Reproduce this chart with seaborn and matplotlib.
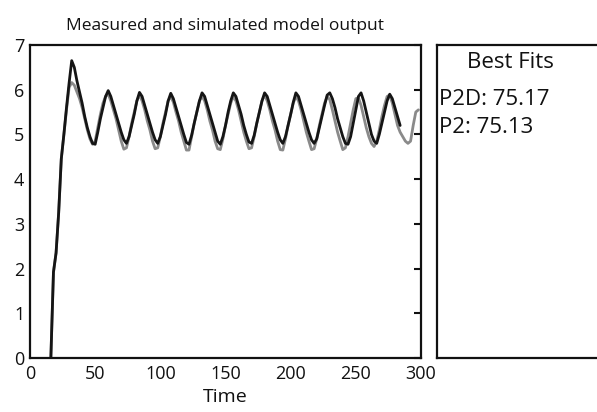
import numpy as np
import pandas as pd
import matplotlib
matplotlib.use("Agg")
import matplotlib.pyplot as plt
import seaborn as sns

# sampled every 2 time units, starting at t = 16
simulated = [
    0.0, 1.92, 2.35, 3.25, 4.45, 5.0, 5.6, 6.15, 6.65, 6.5,
    6.2, 5.95, 5.7, 5.4, 5.15, 4.95, 4.8, 4.78, 5.05, 5.35,
    5.6, 5.85, 5.98, 5.85, 5.65, 5.45, 5.25, 5.05, 4.88, 4.8,
    4.95, 5.2, 5.45, 5.75, 5.94, 5.85, 5.65, 5.45, 5.25, 5.05,
    4.88, 4.8, 4.95, 5.2, 5.45, 5.75, 5.92, 5.8, 5.6, 5.4,
    5.2, 5.0, 4.82, 4.78, 4.98, 5.25, 5.5, 5.75, 5.93, 5.85,
    5.65, 5.45, 5.25, 5.05, 4.85, 4.78, 4.95, 5.2, 5.5, 5.75,
    5.93, 5.85, 5.65, 5.45, 5.2, 5.0, 4.83, 4.8, 4.98, 5.25,
    5.5, 5.75, 5.93, 5.85, 5.65, 5.45, 5.25, 5.05, 4.88, 4.8,
    4.95, 5.2, 5.45, 5.72, 5.93, 5.85, 5.65, 5.45, 5.25, 5.05,
    4.88, 4.8, 4.9, 5.15, 5.4, 5.65, 5.88, 5.93, 5.8, 5.6,
    5.35, 5.15, 4.95, 4.8, 4.78, 4.95, 5.25, 5.55, 5.85, 5.93,
    5.75, 5.5, 5.25, 5.0, 4.85, 4.8, 5.0, 5.25, 5.5, 5.75,
    5.9, 5.8, 5.6, 5.4, 5.2,
]

measured = [
    0.0, 1.92, 2.35, 3.25, 4.45, 5.0, 5.55, 6.05, 6.16, 6.1,
    5.95, 5.8, 5.6, 5.35, 5.1, 4.9, 4.78, 4.85, 5.15, 5.45,
    5.7, 5.85, 5.9, 5.75, 5.55, 5.35, 5.1, 4.85, 4.67, 4.7,
    4.95, 5.25, 5.5, 5.75, 5.88, 5.75, 5.55, 5.3, 5.1, 4.85,
    4.68, 4.7, 4.95, 5.25, 5.5, 5.75, 5.85, 5.72, 5.5, 5.3,
    5.05, 4.85, 4.65, 4.65, 4.95, 5.25, 5.5, 5.75, 5.85, 5.75,
    5.55, 5.3, 5.1, 4.85, 4.68, 4.66, 4.9, 5.2, 5.45, 5.7,
    5.85, 5.75, 5.55, 5.3, 5.05, 4.85, 4.68, 4.7, 4.95, 5.25,
    5.5, 5.75, 5.88, 5.75, 5.55, 5.3, 5.1, 4.85, 4.66, 4.65,
    4.9, 5.2, 5.45, 5.7, 5.85, 5.75, 5.55, 5.3, 5.05, 4.85,
    4.66, 4.68, 4.9, 5.2, 5.45, 5.7, 5.85, 5.78, 5.55, 5.3,
    5.05, 4.85, 4.66, 4.7, 4.95, 5.25, 5.55, 5.8, 5.82, 5.65,
    5.4, 5.15, 4.95, 4.8, 4.73, 4.85, 5.1, 5.4, 5.65, 5.85,
    5.88, 5.7, 5.45, 5.2, 5.05, 4.95, 4.85, 4.8, 4.85, 5.2,
    5.5, 5.55,
]

fits_labels = ["P2D", "P2"]
fits_values = [75.17, 75.13]

sim_df = pd.DataFrame({"time": np.arange(16, 16 + 2 * len(simulated), 2), "y": simulated})
meas_df = pd.DataFrame({"time": np.arange(16, 16 + 2 * len(measured), 2), "y": measured})

sns.set_style("white")
plt.rcParams["font.family"] = ["Open Sans", "DejaVu Sans"]

fig = plt.figure(figsize=(5.97, 4.12), dpi=100)
ax = fig.add_axes([30 / 597, 54 / 412, 391 / 597, 313 / 412])
ax_box = fig.add_axes([437 / 597, 54 / 412, 170 / 597, 313 / 412])

sns.lineplot(data=meas_df, x="time", y="y", ax=ax, color="#8a8a8a", lw=2.0,
             estimator=None, sort=False)
sns.lineplot(data=sim_df, x="time", y="y", ax=ax, color="#151515", lw=2.0,
             estimator=None, sort=False)

ax.set_xlim(0, 300)
ax.set_ylim(0, 7)
ax.set_xticks(range(0, 301, 50))
ax.set_yticks(range(0, 8))
ax.tick_params(direction="in", length=5, width=1.5, right=True, top=False,
               labelsize=13, colors="#111111")
ax.tick_params(axis="x", pad=5)
ax.tick_params(axis="y", pad=4)
ax.set_xlabel("Time", fontsize=14, labelpad=4, color="#111111")
ax.set_ylabel("")
ax.set_title("Measured and simulated model output", fontsize=12.5, pad=11,
             color="#111111")
for s in ax.spines.values():
    s.set_linewidth(1.6)
    s.set_color("#111111")

ax_box.set_xticks([])
ax_box.set_yticks([])
ax_box.set_xlim(0, 1)
ax_box.set_ylim(0, 1)
for s in ax_box.spines.values():
    s.set_linewidth(1.6)
    s.set_color("#111111")
ax_box.text(0.43, 0.927, "Best Fits", ha="center", va="baseline", fontsize=16,
            color="#111111", transform=ax_box.transAxes)
for i, (lab, val) in enumerate(zip(fits_labels, fits_values)):
    ax_box.text(0.012, 0.808 - i * 0.089, f"{lab}: {val:.2f}", ha="left",
                va="baseline", fontsize=16, color="#111111",
                transform=ax_box.transAxes)

fig.savefig("out.png", dpi=100)
